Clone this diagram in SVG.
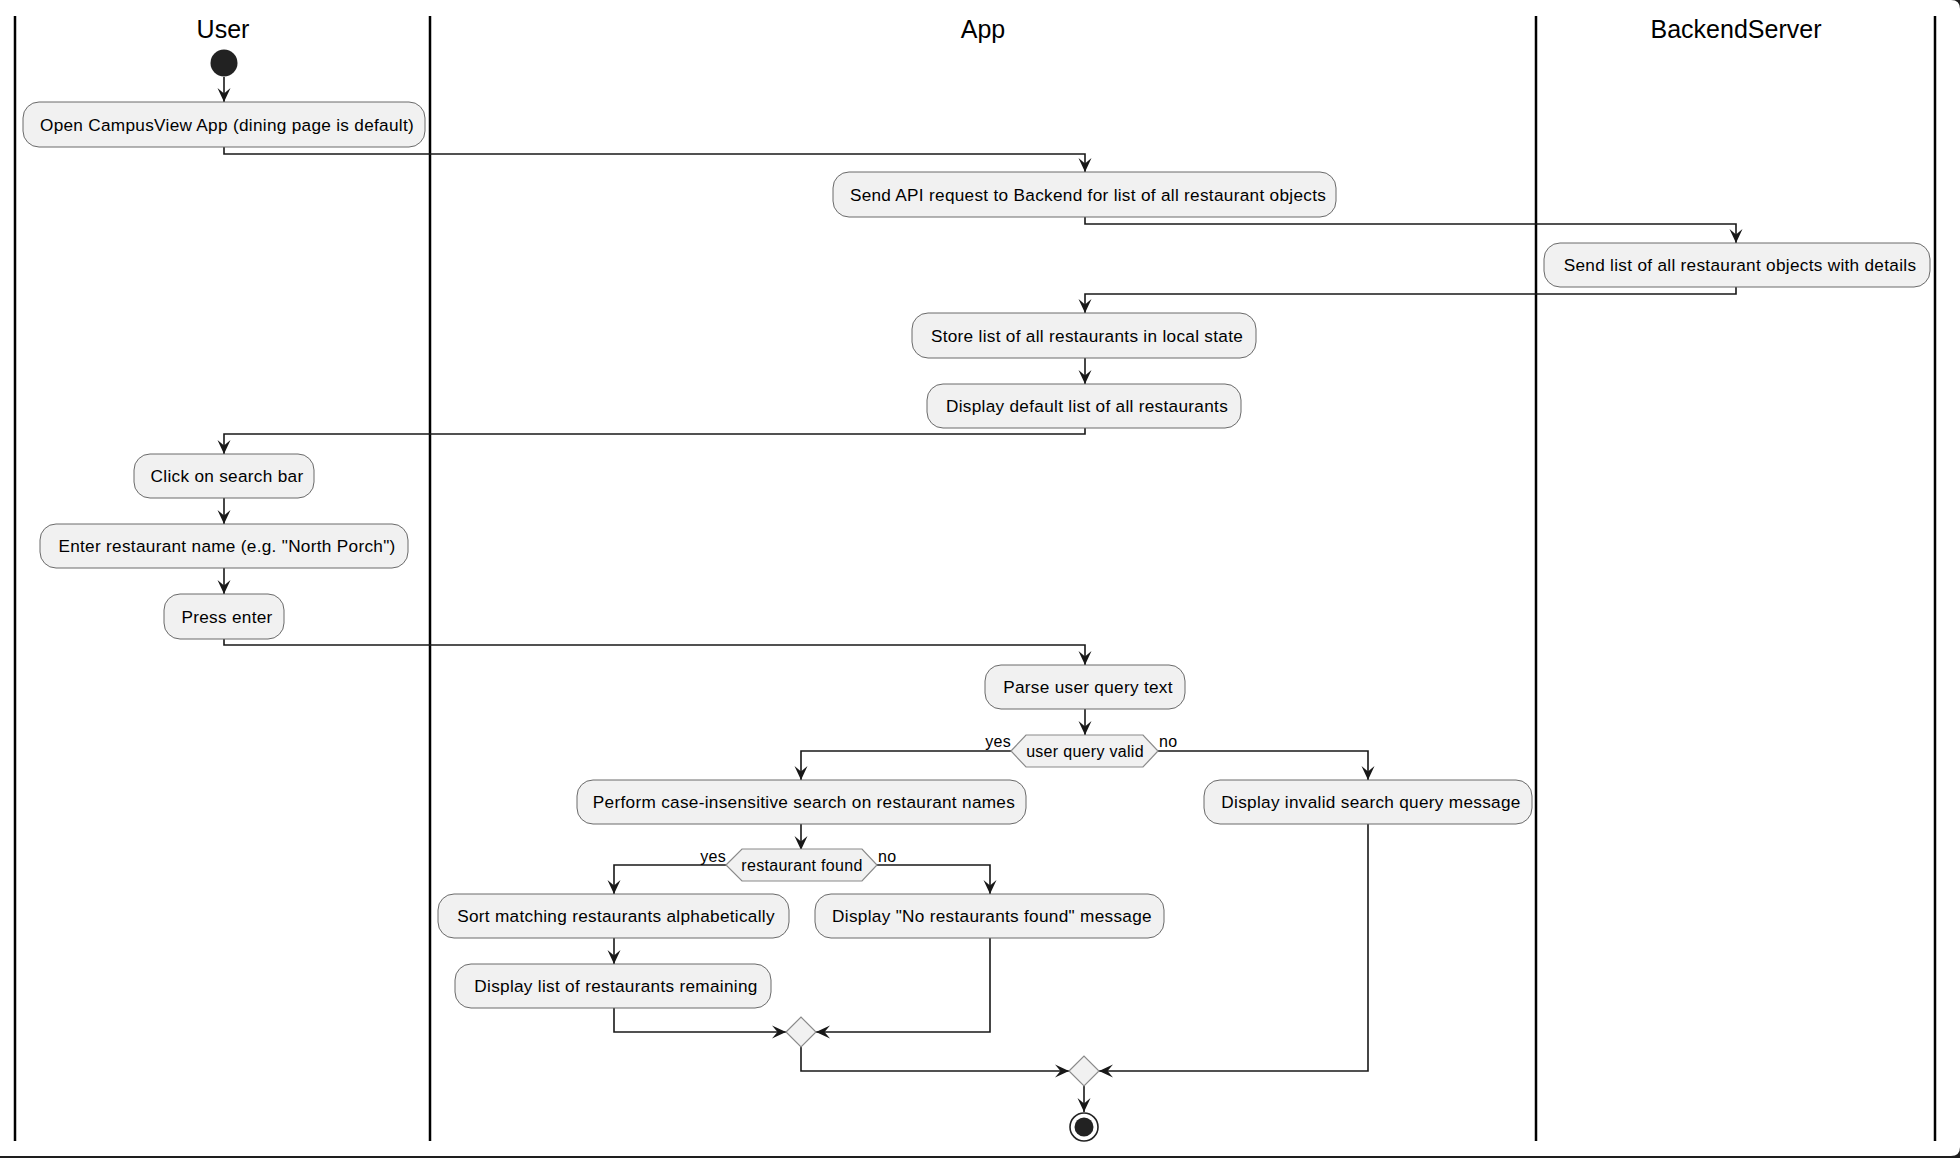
<svg xmlns="http://www.w3.org/2000/svg" width="1960" height="1158" viewBox="0 0 1960 1158">
<defs>
<style>
.frame{fill:#1e1e1e}
.page{fill:#ffffff}
.lane{stroke:#000000;stroke-width:2.5;fill:none}
.title{font-family:"Liberation Sans",Arial,sans-serif;font-size:25px;fill:#000000;text-anchor:middle}
.act{fill:#F1F1F1;stroke:#6a6a6a;stroke-width:1}
.hex{fill:#F1F1F1;stroke:#8a8a8a;stroke-width:1.2}
.txt{font-family:"Liberation Sans",Arial,sans-serif;font-size:17.2px;letter-spacing:0.3px;fill:#000000;text-anchor:middle}
.dtxt{font-family:"Liberation Sans",Arial,sans-serif;font-size:16px;letter-spacing:0.3px;fill:#000000;text-anchor:middle}
.lbl{font-family:"Liberation Sans",Arial,sans-serif;font-size:16px;letter-spacing:0.3px;fill:#000000}
.edge{stroke:#181818;stroke-width:1.6;fill:none;marker-end:url(#arr)}
.dot{fill:#222222}
</style>
<marker id="arr" viewBox="-15 -8 16 16" refX="0" refY="0" markerWidth="16" markerHeight="16" markerUnits="userSpaceOnUse" orient="auto">
<path d="M0,0 L-14,-6.5 L-8.5,0 L-14,6.5 Z" fill="#181818"/>
</marker>
</defs>

<rect class="frame" x="0" y="0" width="1960" height="1158"/>
<path class="page" d="M0,0 H1951 Q1960,0 1960,9 V1147 Q1960,1156 1951,1156 H0 Z"/>

<g id="lanes">
<line class="lane" x1="15" y1="16" x2="15" y2="1141"/>
<line class="lane" x1="430" y1="16" x2="430" y2="1141"/>
<line class="lane" x1="1536" y1="16" x2="1536" y2="1141"/>
<line class="lane" x1="1935" y1="16" x2="1935" y2="1141"/>
<text class="title" x="223" y="38">User</text>
<text class="title" x="983" y="38">App</text>
<text class="title" x="1736" y="38">BackendServer</text>
</g>

<g id="connectors">
<path class="edge" d="M224,77 V102"/>
<path class="edge" d="M224,147 V154 H1085 V172"/>
<path class="edge" d="M1085,217 V224 H1736 V243"/>
<path class="edge" d="M1736,287 V294 H1085 V313"/>
<path class="edge" d="M1085,358 V384"/>
<path class="edge" d="M1085,428 V434 H224 V454"/>
<path class="edge" d="M224,498 V524"/>
<path class="edge" d="M224,568 V594"/>
<path class="edge" d="M224,639 V645 H1085 V665"/>
<path class="edge" d="M1085,709 V735"/>
<path class="edge" d="M1011,751 H801 V780"/>
<path class="edge" d="M1158,751 H1368 V780"/>
<path class="edge" d="M801,824 V850"/>
<path class="edge" d="M726,865 H614 V894"/>
<path class="edge" d="M877,865 H990 V894"/>
<path class="edge" d="M614,938 V964"/>
<path class="edge" d="M614,1008 V1032 H786"/>
<path class="edge" d="M990,938 V1032 H816"/>
<path class="edge" d="M801,1047 V1071 H1069"/>
<path class="edge" d="M1368,824 V1071 H1099"/>
<path class="edge" d="M1084,1086 V1112"/>
<text class="lbl" x="1011" y="747" text-anchor="end">yes</text>
<text class="lbl" x="1159" y="747">no</text>
<text class="lbl" x="726" y="862" text-anchor="end">yes</text>
<text class="lbl" x="878" y="862">no</text>
</g>

<g id="start"><circle class="dot" cx="224" cy="63" r="13.5"/></g>

<g id="n1"><rect class="act" x="23" y="102" width="402" height="45" rx="16"/><text class="txt" x="227" y="130.5">Open CampusView App (dining page is default)</text></g>
<g id="n2"><rect class="act" x="833" y="172" width="503" height="45" rx="16"/><text class="txt" x="1088" y="200.5">Send API request to Backend for list of all restaurant objects</text></g>
<g id="n3"><rect class="act" x="1544" y="243" width="386" height="44" rx="16"/><text class="txt" x="1740" y="271">Send list of all restaurant objects with details</text></g>
<g id="n4"><rect class="act" x="912" y="313" width="344" height="45" rx="16"/><text class="txt" x="1087" y="341.5">Store list of all restaurants in local state</text></g>
<g id="n5"><rect class="act" x="927" y="384" width="314" height="44" rx="16"/><text class="txt" x="1087" y="412">Display default list of all restaurants</text></g>
<g id="n6"><rect class="act" x="134" y="454" width="180" height="44" rx="16"/><text class="txt" x="227" y="482">Click on search bar</text></g>
<g id="n7"><rect class="act" x="40" y="524" width="368" height="44" rx="16"/><text class="txt" x="227" y="552">Enter restaurant name (e.g. "North Porch")</text></g>
<g id="n8"><rect class="act" x="164" y="594" width="120" height="45" rx="16"/><text class="txt" x="227" y="622.5">Press enter</text></g>
<g id="n9"><rect class="act" x="985" y="665" width="200" height="44" rx="16"/><text class="txt" x="1088" y="693">Parse user query text</text></g>

<g id="d1"><polygon class="hex" points="1011,751 1026,735 1143,735 1158,751 1143,767 1026,767"/><text class="dtxt" x="1085" y="756.5">user query valid</text></g>

<g id="n10"><rect class="act" x="577" y="780" width="449" height="44" rx="16"/><text class="txt" x="804" y="808">Perform case-insensitive search on restaurant names</text></g>
<g id="n11"><rect class="act" x="1204" y="780" width="328" height="44" rx="16"/><text class="txt" x="1371" y="808">Display invalid search query message</text></g>

<g id="d2"><polygon class="hex" points="726,865 742,849 862,849 877,865 862,881 742,881"/><text class="dtxt" x="802" y="870.5">restaurant found</text></g>

<g id="n12"><rect class="act" x="438" y="894" width="351" height="44" rx="16"/><text class="txt" x="616" y="922">Sort matching restaurants alphabetically</text></g>
<g id="n13"><rect class="act" x="815" y="894" width="349" height="44" rx="16"/><text class="txt" x="992" y="922">Display "No restaurants found" message</text></g>
<g id="n14"><rect class="act" x="455" y="964" width="316" height="44" rx="16"/><text class="txt" x="616" y="992">Display list of restaurants remaining</text></g>

<g id="m1"><polygon class="hex" points="786,1032 801,1017 816,1032 801,1047"/></g>
<g id="m2"><polygon class="hex" points="1069,1071 1084,1056 1099,1071 1084,1086"/></g>

<g id="end"><circle cx="1084" cy="1127" r="14" fill="#ffffff" stroke="#222222" stroke-width="1.6"/><circle class="dot" cx="1084" cy="1127" r="9.5"/></g>
</svg>
